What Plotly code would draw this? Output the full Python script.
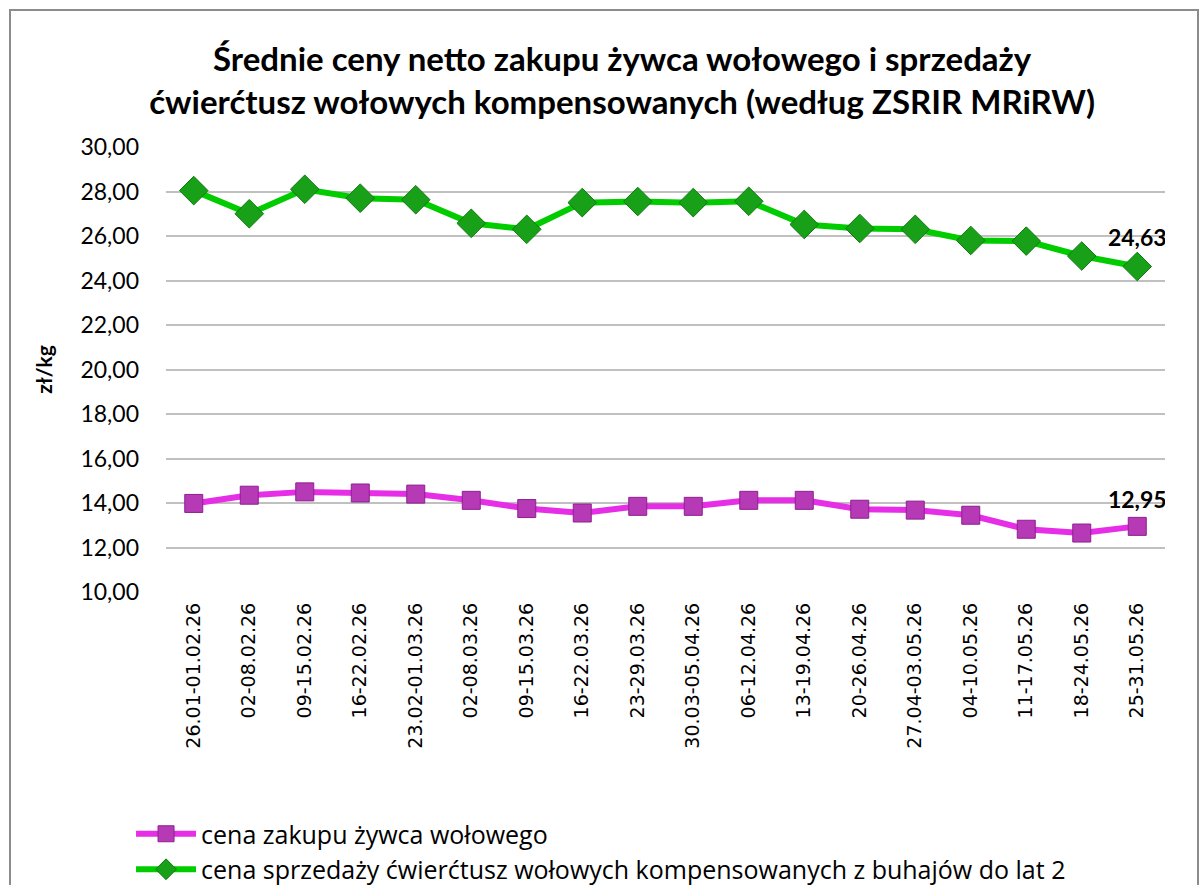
import plotly.graph_objects as go

categories = ["26.01-01.02.26", "02-08.02.26", "09-15.02.26", "16-22.02.26", "23.02-01.03.26",
              "02-08.03.26", "09-15.03.26", "16-22.03.26", "23-29.03.26", "30.03-05.04.26",
              "06-12.04.26", "13-19.04.26", "20-26.04.26", "27.04-03.05.26", "04-10.05.26",
              "11-17.05.26", "18-24.05.26", "25-31.05.26"]
zywiec = [13.98, 14.35, 14.50, 14.45, 14.40, 14.12, 13.75, 13.55, 13.85, 13.85,
          14.12, 14.12, 13.72, 13.68, 13.45, 12.82, 12.65, 12.95]
cwiercie = [28.04, 27.00, 28.10, 27.70, 27.63, 26.57, 26.30, 27.50, 27.55, 27.50,
            27.56, 26.52, 26.34, 26.30, 25.80, 25.77, 25.10, 24.63]

name_z = "cena zakupu żywca wołowego"
name_c = "cena sprzedaży ćwierćtusz wołowych kompensowanych z buhajów do lat 2"
title = "Średnie ceny netto zakupu żywca wołowego i sprzedaży<br>ćwierćtusz wołowych kompensowanych (według ZSRIR MRiRW)"

def last_label(vals):
    return [""] * (len(vals) - 1) + [f"{vals[-1]:.2f}".replace(".", ",")]

fig = go.Figure()
fig.add_trace(go.Scatter(
    x=categories, y=zywiec, name=name_z, mode="lines+markers+text",
    line=dict(color="#E62EE6", width=6),
    marker=dict(symbol="square", size=18, color="#B63AB6", line=dict(color="#8E1F8E", width=1)),
    text=last_label(zywiec), textposition="top center",
    textfont=dict(family="Lato", size=23, color="black", weight="bold"),
))
fig.add_trace(go.Scatter(
    x=categories, y=cwiercie, name=name_c, mode="lines+markers+text",
    line=dict(color="#00CC00", width=6),
    marker=dict(symbol="diamond", size=22, color="#18A018", line=dict(color="#0E7A0E", width=1)),
    text=last_label(cwiercie), textposition="top center",
    textfont=dict(family="Lato", size=23, color="black", weight="bold"),
))

fig.update_layout(
    width=1201, height=885,
    margin=dict(l=166, r=36, t=147, b=293),
    paper_bgcolor="white", plot_bgcolor="white",
    separators=", ",
    title=dict(text=title, x=0.518, xanchor="center", y=0.92, yanchor="top",
               font=dict(family="Lato", size=33, color="black", weight="bold")),
    xaxis=dict(tickangle=-90, showgrid=False, showline=False, ticks="",
               range=[-0.5, len(categories) - 0.5], ticklabelstandoff=6,
               tickfont=dict(family="DejaVu Sans", size=19, color="black")),
    yaxis=dict(range=[10, 30], dtick=2, tickformat=".2f", showgrid=True,
               gridcolor="#C0C0C0", gridwidth=2, zeroline=False, showline=False,
               ticks="", ticklabelstandoff=26,
               tickfont=dict(family="Lato", size=23, color="black"),
               title=dict(text="zł/kg", standoff=22,
                          font=dict(family="Lato", size=21, color="black", weight="bold"))),
    legend=dict(orientation="v", x=-0.035, xanchor="left",
                yref="container", y=1 - 811 / 885, yanchor="top",
                font=dict(family="Open Sans", size=25, color="black"),
                itemwidth=60, bgcolor="rgba(0,0,0,0)"),
    showlegend=True,
    shapes=[dict(type="rect", xref="paper", yref="paper",
                 x0=-156/999, x1=1032/999, y0=-(885 - 592 + 20)/445, y1=(592 - 10)/445,
                 line=dict(color="#8C8C8C", width=2), fillcolor="rgba(0,0,0,0)")],
)

fig.write_html("out.html", config={"displayModeBar": False},
               post_script="document.body.style.margin='0px';")
